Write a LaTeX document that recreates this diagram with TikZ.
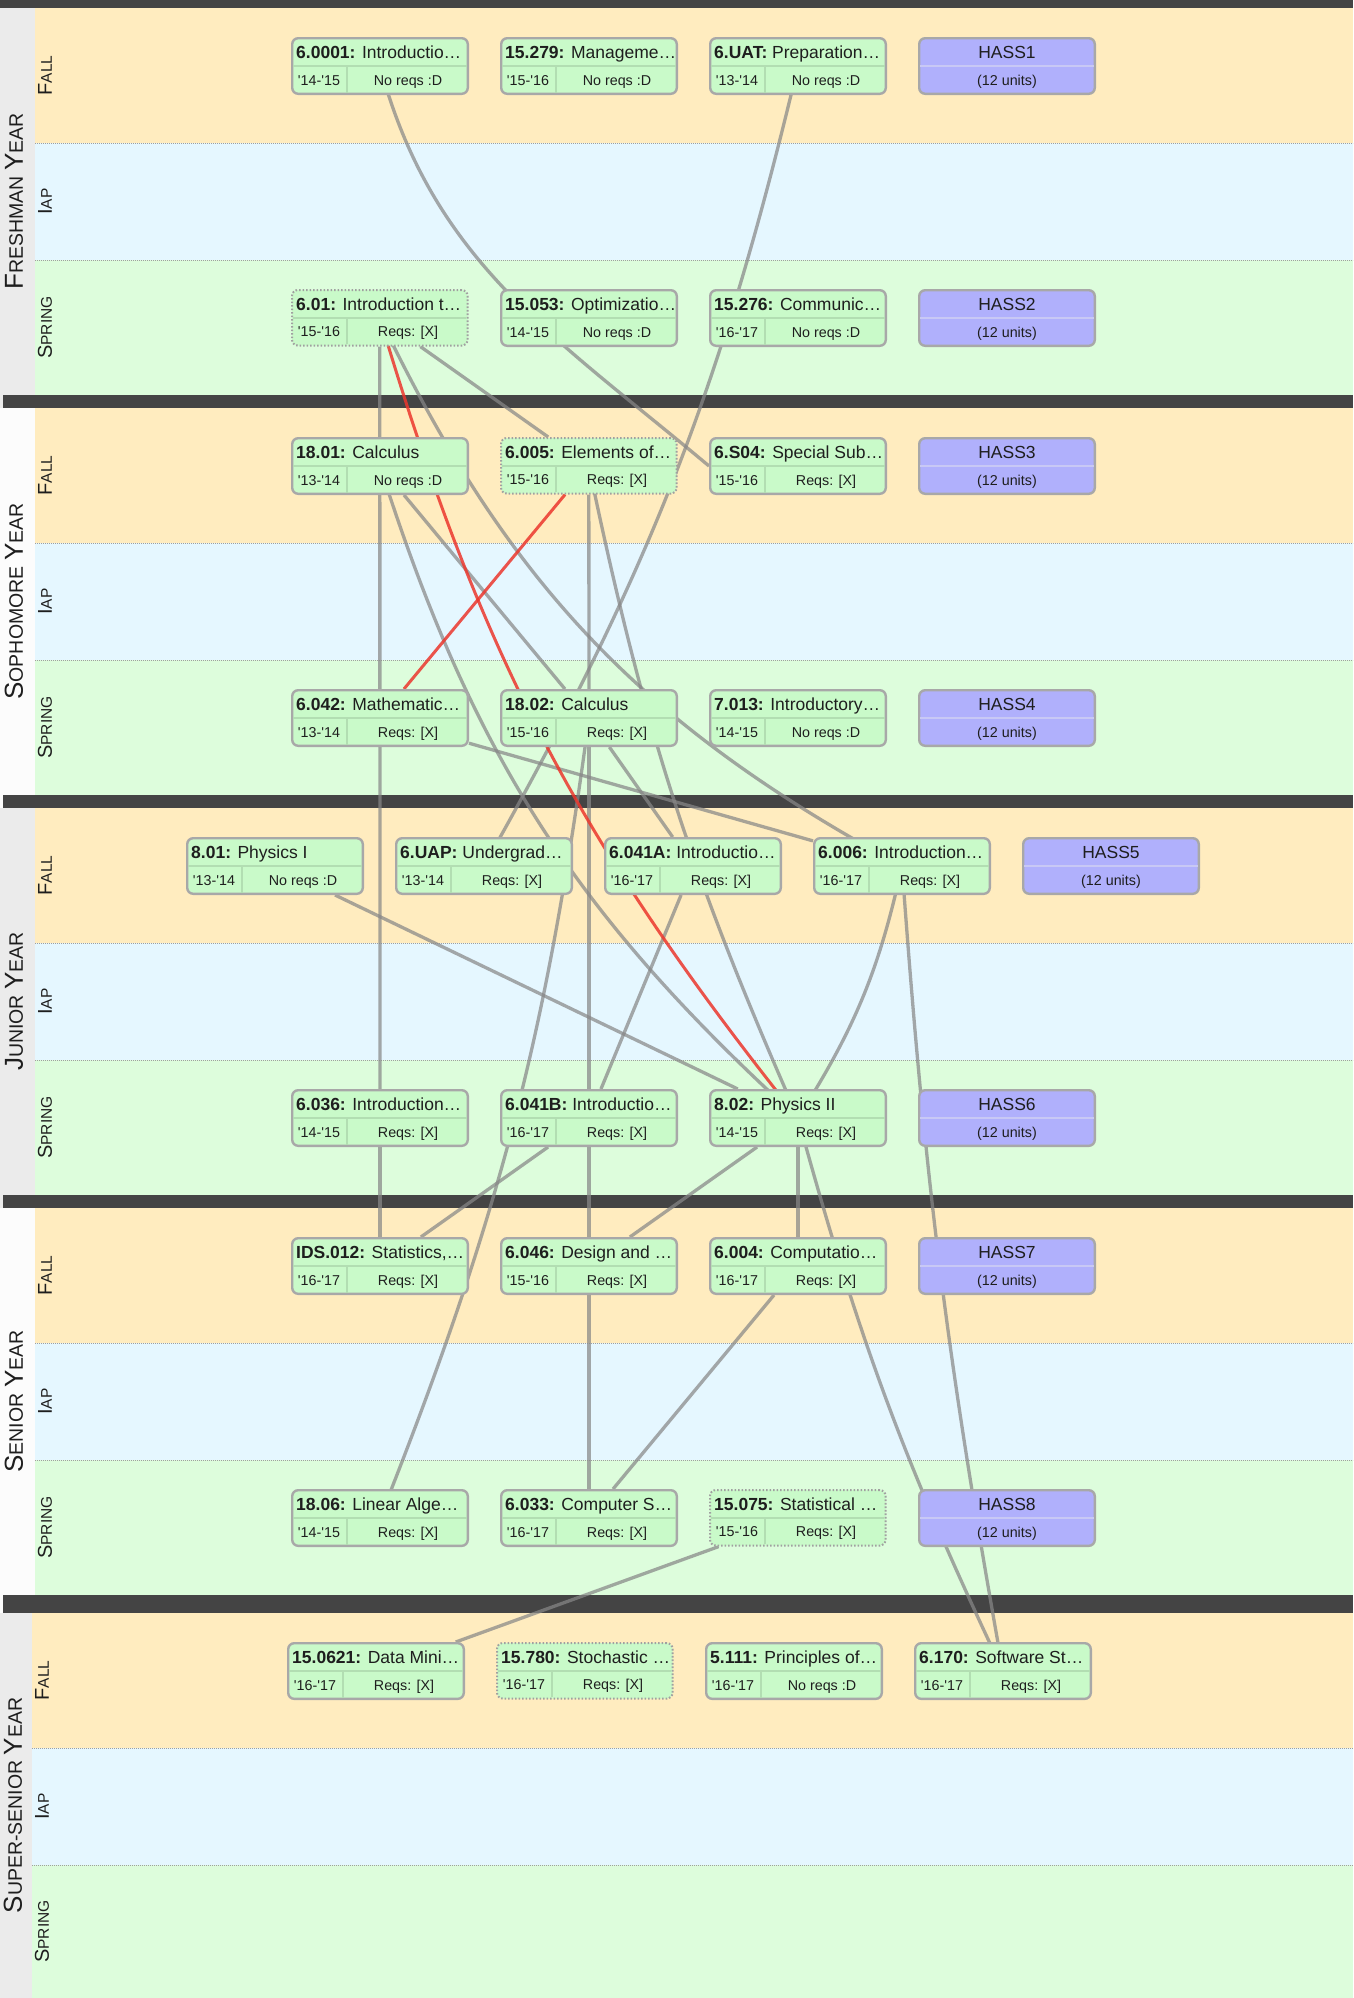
\documentclass[tikz,border=0pt]{standalone}
\usepackage{fontspec}
\setmainfont{Liberation Sans}

\definecolor{fallBand}{RGB}{255,236,191}
\definecolor{iapBand}{RGB}{229,247,255}
\definecolor{springBand}{RGB}{221,253,220}
\definecolor{yearGray}{RGB}{235,235,235}
\definecolor{yearWhite}{RGB}{252,252,252}
\definecolor{darkBar}{RGB}{68,68,68}
\definecolor{courseFill}{RGB}{201,250,201}
\definecolor{hassFill}{RGB}{176,176,252}
\definecolor{boxBorder}{RGB}{168,168,168}
\definecolor{dotBorder}{RGB}{160,160,160}
\definecolor{cellGreen}{RGB}{178,222,178}
\definecolor{cellBlue}{RGB}{200,200,245}
\definecolor{linkGray}{RGB}{135,135,135}
\definecolor{linkRed}{RGB}{236,55,45}
\definecolor{textDark}{RGB}{30,30,30}

\pgfdeclarelayer{bands}
\pgfdeclarelayer{links}
\pgfsetlayers{bands,links,main}

\tikzstyle{greenCourse} = [
    rectangle,
    draw=boxBorder,
    fill=courseFill,
    line width=2.4pt,
    rounded corners=6pt,
    minimum height=55.6pt,
    minimum width=175.6pt,
    inner sep=0pt
    ]
\tikzstyle{dottedCourse} = [
    greenCourse,
    draw=dotBorder,
    line width=2pt,
    dash pattern=on 1.6pt off 1.9pt
    ]
\tikzstyle{blueHass} = [
    greenCourse,
    fill=hassFill
    ]
\tikzstyle{cellLine} = [
    draw=cellGreen,
    line width=1.2pt,
    shorten <=2.4pt,
    shorten >=2.4pt
    ]
\tikzstyle{hassLine} = [
    cellLine,
    draw=cellBlue
    ]
\tikzstyle{titleText} = [
    inner sep=0pt,
    text=textDark,
    font=\fontsize{17.5}{20}\selectfont
    ]
\tikzstyle{cellText} = [
    inner sep=0pt,
    text=textDark,
    font=\fontsize{14.3}{17}\selectfont
    ]
\tikzstyle{yearLabel} = [
    rotate=90,
    inner sep=0pt,
    text=textDark,
    font=\fontsize{19.5}{22}\selectfont
    ]
\tikzstyle{termLabel} = [
    rotate=90,
    inner sep=0pt,
    text=textDark,
    font=\fontsize{15.5}{18}\selectfont
    ]
\tikzstyle{termDivider} = [
    draw=gray!75,
    line width=0.8pt,
    dash pattern=on 0.8pt off 1.2pt
    ]
\tikzstyle{grayLink} = [
    draw=linkGray,
    draw opacity=0.72,
    line width=3.3pt
    ]
\tikzstyle{redLink} = [
    draw=linkRed,
    draw opacity=0.85,
    line width=3pt
    ]

\newcommand{\bigInitial}[1]{{\fontsize{26}{26}\selectfont #1}}
\newcommand{\termInitial}[1]{{\fontsize{20}{20}\selectfont #1}}
\newcommand{\yr}[2]{\textquotesingle#1-\textquotesingle#2}

% course box: [style]{name}{left}{top}{number}{title}{years}{reqs}
\newcommand{\course}[8][greenCourse]{%
  \node[#1, anchor=north west] (#2) at (#3,-#4) {};
  \draw[cellLine] ([yshift=-29pt]#2.north west) -- ([yshift=-29pt]#2.north east);
  \draw[cellLine, shorten >=0.6pt] ([xshift=56pt]#2.south west) -- ([xshift=56pt,yshift=29pt]#2.south west);
  \node[titleText, anchor=base west] (#2-t) at ([xshift=5pt,yshift=-21pt]#2.north west) {\textbf{#5:} #6};
  \node[cellText, anchor=base] (#2-y) at ([xshift=28pt,yshift=10pt]#2.south west) {#7};
  \node[cellText, anchor=base] (#2-r) at ([xshift=117pt,yshift=10pt]#2.south west) {#8};
}
% hass box: {name}{left}{top}{label}
\newcommand{\hass}[4]{%
  \node[blueHass, anchor=north west] (#1) at (#2,-#3) {};
  \draw[hassLine] ([yshift=-29pt]#1.north west) -- ([yshift=-29pt]#1.north east);
  \node[titleText, anchor=base] (#1-t) at ([yshift=-21pt]#1.north) {#4};
  \node[cellText, anchor=base] (#1-u) at ([yshift=10pt]#1.south) {(12 units)};
}

\begin{document}
\begin{tikzpicture}[x=1pt, y=1pt]
  \useasboundingbox (0,0) rectangle (1353,-1998);

  \begin{pgfonlayer}{bands}
    \fill[white] (0,0) rectangle (1353,-1998);
    % freshman
    \fill[yearGray] (0,-8) rectangle (35,-408);
    \fill[fallBand] (35,-8) rectangle (1353,-143);
    \fill[iapBand] (35,-143) rectangle (1353,-260);
    \fill[springBand] (35,-260) rectangle (1353,-395);
    \draw[termDivider] (35,-143) -- (1353,-143);
    \draw[termDivider] (35,-260) -- (1353,-260);
    % sophomore
    \fill[yearWhite] (0,-408) rectangle (35,-808);
    \fill[fallBand] (35,-408) rectangle (1353,-543);
    \fill[iapBand] (35,-543) rectangle (1353,-660);
    \fill[springBand] (35,-660) rectangle (1353,-795);
    \draw[termDivider] (35,-543) -- (1353,-543);
    \draw[termDivider] (35,-660) -- (1353,-660);
    % junior
    \fill[yearGray] (0,-808) rectangle (35,-1208);
    \fill[fallBand] (35,-808) rectangle (1353,-943);
    \fill[iapBand] (35,-943) rectangle (1353,-1060);
    \fill[springBand] (35,-1060) rectangle (1353,-1195);
    \draw[termDivider] (35,-943) -- (1353,-943);
    \draw[termDivider] (35,-1060) -- (1353,-1060);
    % senior
    \fill[yearWhite] (0,-1208) rectangle (35,-1613);
    \fill[fallBand] (35,-1208) rectangle (1353,-1343);
    \fill[iapBand] (35,-1343) rectangle (1353,-1460);
    \fill[springBand] (35,-1460) rectangle (1353,-1595);
    \draw[termDivider] (35,-1343) -- (1353,-1343);
    \draw[termDivider] (35,-1460) -- (1353,-1460);
    % super-senior
    \fill[yearGray] (0,-1613) rectangle (32,-1998);
    \fill[fallBand] (32,-1613) rectangle (1353,-1748);
    \fill[iapBand] (32,-1748) rectangle (1353,-1865);
    \fill[springBand] (32,-1865) rectangle (1353,-1998);
    \draw[termDivider] (32,-1748) -- (1353,-1748);
    \draw[termDivider] (32,-1865) -- (1353,-1865);
    % year bars
    \fill[darkBar] (0,0) rectangle (1353,-8);
    \fill[darkBar] (3,-395) rectangle (1353,-408);
    \fill[darkBar] (3,-795) rectangle (1353,-808);
    \fill[darkBar] (3,-1195) rectangle (1353,-1208);
    \fill[darkBar] (3,-1595) rectangle (1353,-1613);
  \end{pgfonlayer}

  % year and term labels
  \node[yearLabel] (yearFr) at (14,-201.5) {\bigInitial{F}RESHMAN \bigInitial{Y}EAR};
  \node[yearLabel] (yearSo) at (14,-601.5) {\bigInitial{S}OPHOMORE \bigInitial{Y}EAR};
  \node[yearLabel] (yearJu) at (14,-1001.5) {\bigInitial{J}UNIOR \bigInitial{Y}EAR};
  \node[yearLabel] (yearSe) at (14,-1401.5) {\bigInitial{S}ENIOR \bigInitial{Y}EAR};
  \node[yearLabel] (yearSu) at (13,-1805.5) {\bigInitial{S}UPER-SENIOR \bigInitial{Y}EAR};
  \node[termLabel] (fallFr) at (45,-75.5) {\termInitial{F}ALL};
  \node[termLabel] (iapFr) at (45,-201.5) {\termInitial{I}AP};
  \node[termLabel] (springFr) at (45,-327.5) {\termInitial{S}PRING};
  \node[termLabel] (fallSo) at (45,-475.5) {\termInitial{F}ALL};
  \node[termLabel] (iapSo) at (45,-601.5) {\termInitial{I}AP};
  \node[termLabel] (springSo) at (45,-727.5) {\termInitial{S}PRING};
  \node[termLabel] (fallJu) at (45,-875.5) {\termInitial{F}ALL};
  \node[termLabel] (iapJu) at (45,-1001.5) {\termInitial{I}AP};
  \node[termLabel] (springJu) at (45,-1127.5) {\termInitial{S}PRING};
  \node[termLabel] (fallSe) at (45,-1275.5) {\termInitial{F}ALL};
  \node[termLabel] (iapSe) at (45,-1401.5) {\termInitial{I}AP};
  \node[termLabel] (springSe) at (45,-1527.5) {\termInitial{S}PRING};
  \node[termLabel] (fallSu) at (42,-1680.5) {\termInitial{F}ALL};
  \node[termLabel] (iapSu) at (42,-1806.5) {\termInitial{I}AP};
  \node[termLabel] (springSu) at (42,-1931.5) {\termInitial{S}PRING};

  % freshman year
  \course{c60001}{291}{37}{6.0001}{Introductio…}{\yr{14}{15}}{No reqs :D}
  \course{c15279}{500}{37}{15.279}{Manageme…}{\yr{15}{16}}{No reqs :D}
  \course{c6UAT}{709}{37}{6.UAT}{Preparation…}{\yr{13}{14}}{No reqs :D}
  \hass{hass1}{918}{37}{HASS1}
  \course[dottedCourse]{c601}{291}{289}{6.01}{Introduction t…}{\yr{15}{16}}{Reqs: [X]}
  \course{c15053}{500}{289}{15.053}{Optimizatio…}{\yr{14}{15}}{No reqs :D}
  \course{c15276}{709}{289}{15.276}{Communic…}{\yr{16}{17}}{No reqs :D}
  \hass{hass2}{918}{289}{HASS2}

  % sophomore year
  \course{c1801}{291}{437}{18.01}{Calculus}{\yr{13}{14}}{No reqs :D}
  \course[dottedCourse]{c6005}{500}{437}{6.005}{Elements of…}{\yr{15}{16}}{Reqs: [X]}
  \course{c6S04}{709}{437}{6.S04}{Special Sub…}{\yr{15}{16}}{Reqs: [X]}
  \hass{hass3}{918}{437}{HASS3}
  \course{c6042}{291}{689}{6.042}{Mathematic…}{\yr{13}{14}}{Reqs: [X]}
  \course{c1802}{500}{689}{18.02}{Calculus}{\yr{15}{16}}{Reqs: [X]}
  \course{c7013}{709}{689}{7.013}{Introductory…}{\yr{14}{15}}{No reqs :D}
  \hass{hass4}{918}{689}{HASS4}

  % junior year
  \course{c801}{186}{837}{8.01}{Physics I}{\yr{13}{14}}{No reqs :D}
  \course{c6UAP}{395}{837}{6.UAP}{Undergrad…}{\yr{13}{14}}{Reqs: [X]}
  \course{c6041A}{604}{837}{6.041A}{Introductio…}{\yr{16}{17}}{Reqs: [X]}
  \course{c6006}{813}{837}{6.006}{Introduction…}{\yr{16}{17}}{Reqs: [X]}
  \hass{hass5}{1022}{837}{HASS5}
  \course{c6036}{291}{1089}{6.036}{Introduction…}{\yr{14}{15}}{Reqs: [X]}
  \course{c6041B}{500}{1089}{6.041B}{Introductio…}{\yr{16}{17}}{Reqs: [X]}
  \course{c802}{709}{1089}{8.02}{Physics II}{\yr{14}{15}}{Reqs: [X]}
  \hass{hass6}{918}{1089}{HASS6}

  % senior year
  \course{cIDS012}{291}{1237}{IDS.012}{Statistics,…}{\yr{16}{17}}{Reqs: [X]}
  \course{c6046}{500}{1237}{6.046}{Design and …}{\yr{15}{16}}{Reqs: [X]}
  \course{c6004}{709}{1237}{6.004}{Computatio…}{\yr{16}{17}}{Reqs: [X]}
  \hass{hass7}{918}{1237}{HASS7}
  \course{c1806}{291}{1489}{18.06}{Linear Alge…}{\yr{14}{15}}{Reqs: [X]}
  \course{c6033}{500}{1489}{6.033}{Computer S…}{\yr{16}{17}}{Reqs: [X]}
  \course[dottedCourse]{c15075}{709}{1489}{15.075}{Statistical …}{\yr{15}{16}}{Reqs: [X]}
  \hass{hass8}{918}{1489}{HASS8}

  % super-senior year
  \course{c150621}{287}{1642}{15.0621}{Data Mini…}{\yr{16}{17}}{Reqs: [X]}
  \course[dottedCourse]{c15780}{496}{1642}{15.780}{Stochastic …}{\yr{16}{17}}{Reqs: [X]}
  \course{c5111}{705}{1642}{5.111}{Principles of…}{\yr{16}{17}}{No reqs :D}
  \course{c6170}{914}{1642}{6.170}{Software St…}{\yr{16}{17}}{Reqs: [X]}

  % requirement links, under the boxes
  \begin{pgfonlayer}{links}
    \draw[grayLink] (c60001.center) to[out=-75, in=140] (c6S04.west);
    \draw[grayLink] (c6UAT.center) to[bend left=8] (c6UAP.center);
    \draw[grayLink] (c601) -- (c6036);
    \draw[grayLink] (c6036) -- (cIDS012);
    \draw[grayLink] (c601) -- (c6005);
    \draw[grayLink] (c601.center) to[bend right=18] (c6006.center);
    \draw[grayLink] (c1801) -- (c1802);
    \draw[grayLink] (c1801.center) to[bend right=15] (c802.center);
    \draw[grayLink] (c6005) -- (c1802);
    \draw[grayLink] (c6005.center) to[bend right=6] (c802.center);
    \draw[grayLink] (c1802) -- (c6041A);
    \draw[grayLink] (c1802) -- (c6041B);
    \draw[grayLink] (c1802.center) to[bend left=7] (c1806.center);
    \draw[grayLink] (c6042) -- (c6006);
    \draw[grayLink] (c801) -- (c802);
    \draw[grayLink] (c6041A) -- (c6041B);
    \draw[grayLink] (c6006.center) to[bend left=10] (c802.center);
    \draw[grayLink] (c6006.center) to[bend right=3] (c6170.center);
    \draw[grayLink] (c6041B) -- (cIDS012);
    \draw[grayLink] (c6041B) -- (c6046);
    \draw[grayLink] (c802) -- (c6046);
    \draw[grayLink] (c802) -- (c6004);
    \draw[grayLink] (c802.center) to[bend right=5] (c6170.center);
    \draw[grayLink] (c6046) -- (c6033);
    \draw[grayLink] (c6004) -- (c6033);
    \draw[grayLink] (c15075) -- (c150621);
    \draw[redLink] (c601.center) to[bend right=11] (c802.center);
    \draw[redLink] (c6005) -- (c6042);
  \end{pgfonlayer}
\end{tikzpicture}
\end{document}
